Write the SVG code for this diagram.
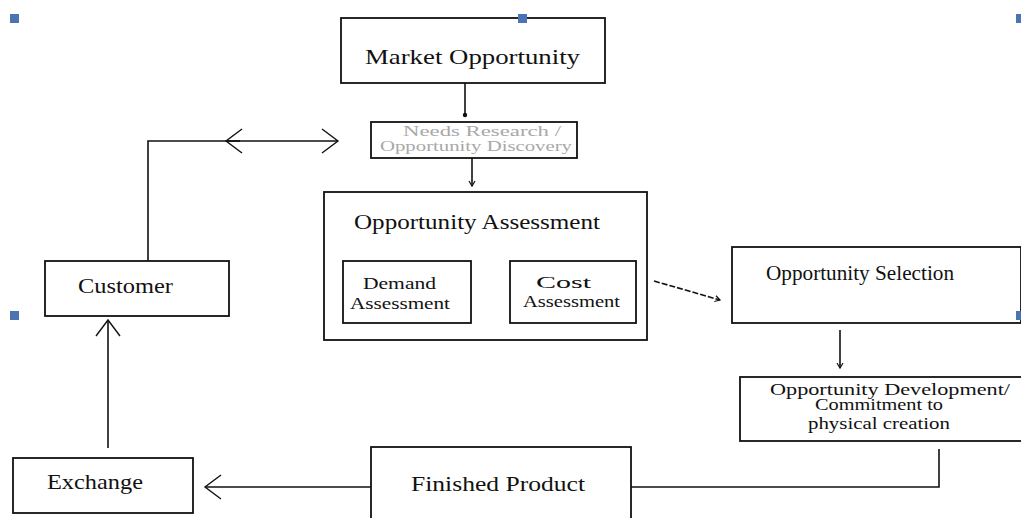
<svg xmlns="http://www.w3.org/2000/svg" width="1021" height="518" viewBox="0 0 1021 518">
<style>
.box{fill:#fff;stroke:#111;stroke-width:1.8}
.t{font-family:"Liberation Serif",serif;fill:#111}
.g{fill:#a8a8a8}
.c{fill:none;stroke:#111;stroke-width:1.6}
.h{fill:#4a74b4}
</style>
<defs>
<marker id="dot" markerWidth="6" markerHeight="6" refX="3" refY="3" markerUnits="userSpaceOnUse"><circle cx="3" cy="3" r="2.2" fill="#111"/></marker>
<marker id="small" markerWidth="8" markerHeight="8" refX="6" refY="4" orient="auto" markerUnits="userSpaceOnUse"><path d="M1,1 L6,4 L1,7" fill="none" stroke="#111" stroke-width="1.2"/></marker>
<marker id="chev" markerWidth="24" markerHeight="30" refX="20" refY="15" orient="auto" markerUnits="userSpaceOnUse"><path d="M4,3 L20,15 L4,27" fill="none" stroke="#111" stroke-width="1.4"/></marker>
</defs>
<rect width="1021" height="518" fill="#fff"/>
<g id="connectors">
<path class="c" d="M465,83 V115" marker-end="url(#dot)"/>
<path class="c" d="M472,158 V186" marker-end="url(#small)"/>
<path class="c" d="M148,261 V141 H338" marker-end="url(#chev)"/>
<path class="c" d="M240,141 H226" marker-end="url(#chev)"/>
<path class="c" d="M476,309 H507" marker-end="url(#small)"/>
<path class="c" d="M654,281 L720,300" stroke-dasharray="6,2" marker-end="url(#small)"/>
<path class="c" d="M840,330 V368" marker-end="url(#small)"/>
<path class="c" d="M939,449 V487 H631"/>
<path class="c" d="M371,487 H205" marker-end="url(#chev)"/>
<path class="c" d="M108,448 V320" marker-end="url(#chev)"/>
</g>
<g id="market-opportunity">
<rect class="box" x="341" y="18" width="264" height="65"/>
<text class="t" x="365" y="64" font-size="22" textLength="215" lengthAdjust="spacingAndGlyphs">Market Opportunity</text>
</g>
<g id="needs-research">
<rect class="box" x="371" y="122" width="206" height="36"/>
<text class="t g" x="403" y="136" font-size="15" textLength="158" lengthAdjust="spacingAndGlyphs">Needs Research /</text>
<text class="t g" x="380" y="151" font-size="15" textLength="192" lengthAdjust="spacingAndGlyphs">Opportunity Discovery</text>
</g>
<g id="opportunity-assessment">
<rect class="box" x="324" y="192" width="323" height="148"/>
<text class="t" x="354" y="229" font-size="21" textLength="246" lengthAdjust="spacingAndGlyphs">Opportunity Assessment</text>
</g>
<g id="demand-assessment">
<rect class="box" x="343" y="261" width="128" height="62"/>
<text class="t" x="363" y="289" font-size="17" textLength="73" lengthAdjust="spacingAndGlyphs">Demand</text>
<text class="t" x="350" y="309" font-size="17" textLength="100" lengthAdjust="spacingAndGlyphs">Assessment</text>
</g>
<g id="cost-assessment">
<rect class="box" x="510" y="261" width="126" height="62"/>
<text class="t" x="536" y="288" font-size="17" textLength="55" lengthAdjust="spacingAndGlyphs">Cost</text>
<text class="t" x="523" y="307" font-size="17" textLength="97" lengthAdjust="spacingAndGlyphs">Assessment</text>
</g>
<g id="opportunity-selection">
<rect class="box" x="732" y="247" width="289" height="76"/>
<text class="t" x="766" y="280" font-size="20" textLength="188" lengthAdjust="spacingAndGlyphs">Opportunity Selection</text>
</g>
<g id="opportunity-development">
<rect class="box" x="740" y="377" width="290" height="64"/>
<text class="t" x="770" y="395" font-size="16" textLength="240" lengthAdjust="spacingAndGlyphs">Opportunity Development/</text>
<text class="t" x="815" y="410" font-size="16" textLength="128" lengthAdjust="spacingAndGlyphs">Commitment to</text>
<text class="t" x="808" y="429" font-size="17" textLength="142" lengthAdjust="spacingAndGlyphs">physical creation</text>
</g>
<g id="customer">
<rect class="box" x="45" y="261" width="184" height="55"/>
<text class="t" x="78" y="293" font-size="21" textLength="95" lengthAdjust="spacingAndGlyphs">Customer</text>
</g>
<g id="exchange">
<rect class="box" x="13" y="458" width="180" height="55"/>
<text class="t" x="47" y="489" font-size="21" textLength="96" lengthAdjust="spacingAndGlyphs">Exchange</text>
</g>
<g id="finished-product">
<rect class="box" x="371" y="447" width="260" height="80"/>
<text class="t" x="411" y="491" font-size="21" textLength="174" lengthAdjust="spacingAndGlyphs">Finished Product</text>
</g>
<g id="handles">
<rect class="h" x="10" y="14" width="9" height="9"/>
<rect class="h" x="518" y="14" width="9" height="9"/>
<rect class="h" x="1016" y="14" width="6" height="9"/>
<rect class="h" x="10" y="311" width="9" height="9"/>
<rect class="h" x="1016" y="311" width="6" height="9"/>
</g>
</svg>
